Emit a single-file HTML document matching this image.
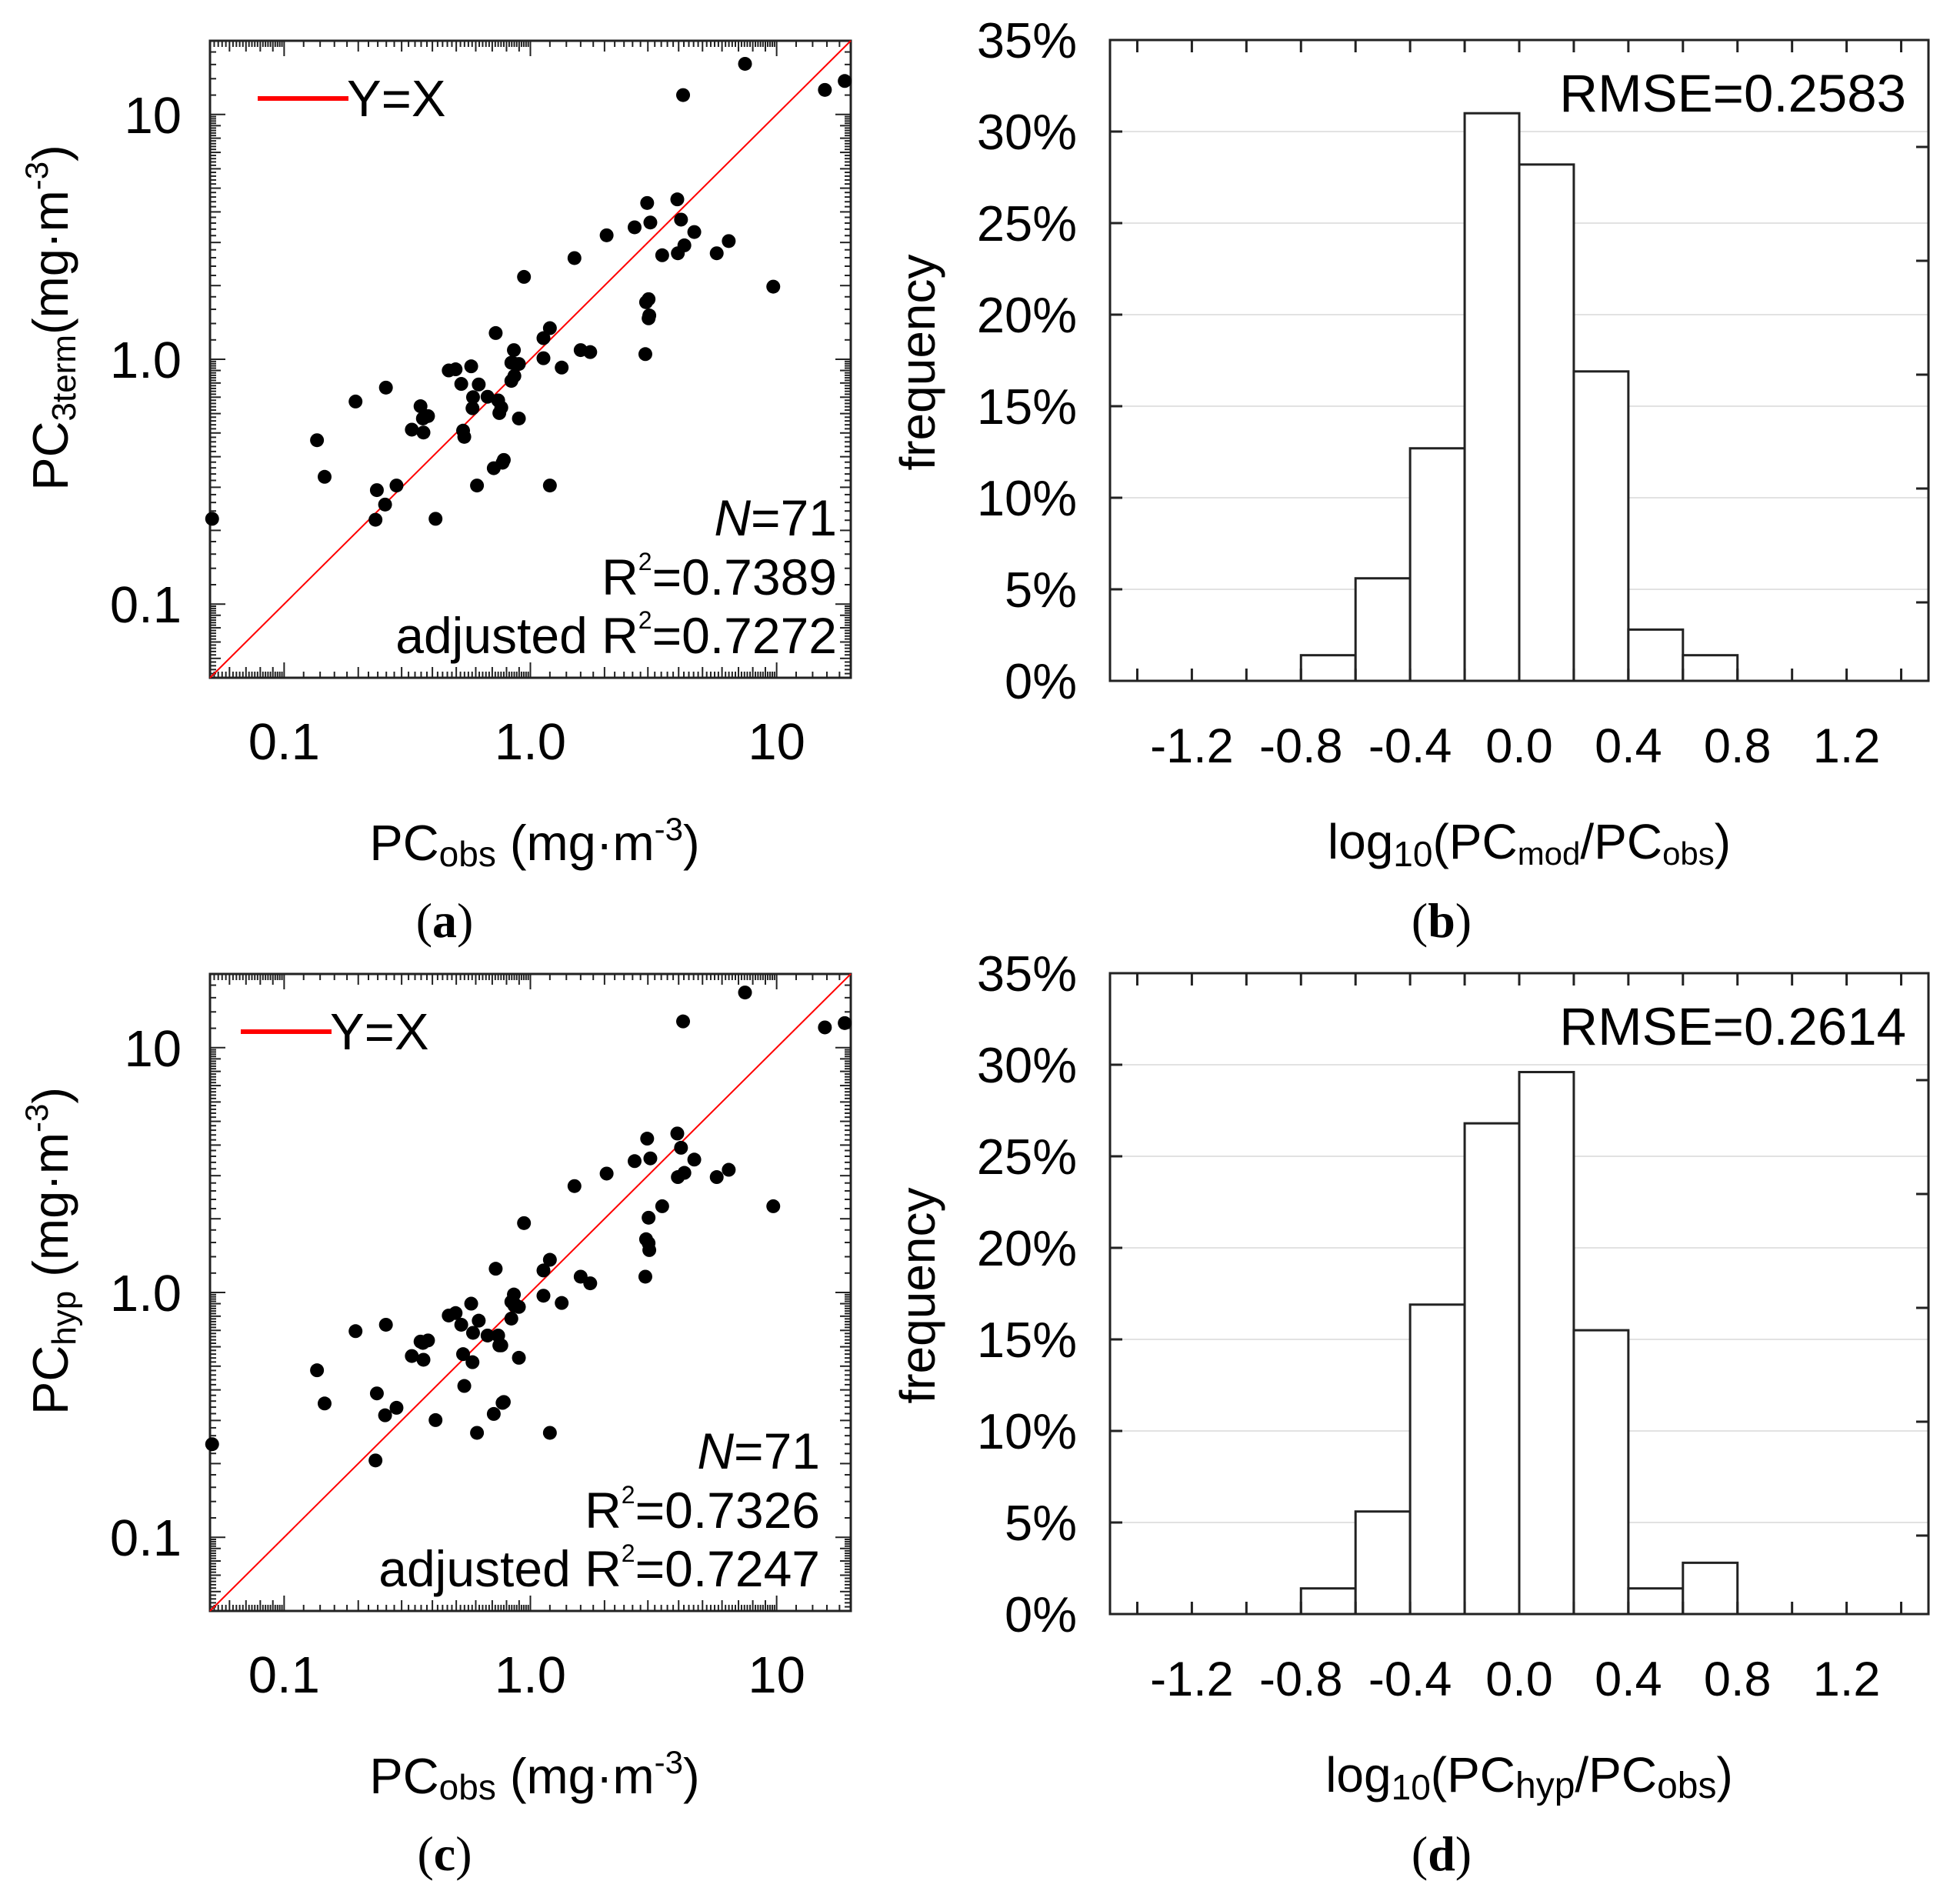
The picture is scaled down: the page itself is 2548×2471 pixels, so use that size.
<!DOCTYPE html>
<html><head><meta charset="utf-8"><style>
html,body{margin:0;padding:0;background:#fff}
svg{display:block}
text{font-family:"Liberation Sans",Arial,sans-serif;fill:#000}
.lab{font-family:"Liberation Serif",serif;font-size:64px}
</style></head><body>
<svg id="fig" xmlns="http://www.w3.org/2000/svg" width="2548" height="2471" viewBox="0 0 2548 2471">
</svg>
<script>
// ---- data ----
const obs = [0.051,0.136,0.146,0.195,0.259,0.238,0.235,0.257,0.286,0.330,0.358,0.368,0.366,0.384,0.412,0.466,0.497,0.524,0.533,0.539,0.575,0.585,0.582,0.617,0.607,0.670,0.723,0.710,0.740,0.748,0.762,0.771,0.780,0.857,0.837,0.837,0.861,0.898,0.898,0.942,1.13,1.13,1.20,1.20,1.34,1.51,1.60,1.75,2.04,2.65,2.98,3.07,2.95,3.02,3.04,3.02,2.93,3.43,3.95,4.09,3.97,4.22,4.63,4.17,5.71,6.39,7.44,9.69,15.7,18.9,0.86];
const pc3term = [0.223,0.467,0.331,0.672,0.766,0.292,0.221,0.255,0.305,0.516,0.643,0.502,0.573,0.586,0.223,0.900,0.910,0.793,0.511,0.482,0.936,0.700,0.631,0.789,0.305,0.703,1.28,0.359,0.679,0.603,0.635,0.378,0.388,1.09,0.968,0.816,0.855,0.957,0.573,2.17,1.22,1.01,1.34,0.305,0.925,2.59,1.09,1.07,3.21,3.46,4.35,3.62,1.71,1.76,1.51,1.47,1.05,2.66,4.50,3.72,2.71,2.92,3.31,12.0,2.71,3.04,16.1,1.98,12.6,13.7,0.96];
const pchyp = [0.240,0.481,0.352,0.695,0.738,0.387,0.206,0.315,0.338,0.550,0.630,0.531,0.622,0.637,0.301,0.805,0.824,0.738,0.560,0.415,0.900,0.684,0.519,0.767,0.267,0.667,1.25,0.319,0.667,0.608,0.608,0.354,0.357,0.981,0.916,0.782,0.883,0.873,0.541,1.92,1.23,0.970,1.36,0.267,0.906,2.72,1.16,1.09,3.06,3.44,4.25,3.53,1.65,2.02,1.49,1.59,1.16,2.25,4.46,3.90,2.96,3.08,3.49,12.8,2.96,3.17,16.8,2.25,12.1,12.6,0.90];
const binStarts = [-0.8,-0.6,-0.4,-0.2,0.0,0.2,0.4,0.6];
const freqB = [1.4,5.6,12.7,31.0,28.2,16.9,2.8,1.4];
const freqD = [1.4,5.6,16.9,26.8,29.6,15.5,1.4,2.8];
const histXTicks = ["-1.2","-0.8","-0.4","0.0","0.4","0.8","1.2"];
const histYTicks = ["0%","5%","10%","15%","20%","25%","30%","35%"];
const logTicks = ["0.1","1.0","10"];

const NS="http://www.w3.org/2000/svg";
const svg=document.getElementById('fig');
function el(tag,attrs,parent){const e=document.createElementNS(NS,tag);for(const k in attrs)e.setAttribute(k,attrs[k]);(parent||svg).appendChild(e);return e;}
function txt(parent,x,y,str,size,anchor,extra){const t=el('text',Object.assign({x:x,y:y,'font-size':size,'text-anchor':anchor||'start'},extra||{}),parent);t.textContent=str;return t;}
function tspan(t,str,attrs){const s=document.createElementNS(NS,'tspan');for(const k in attrs)s.setAttribute(k,attrs[k]);s.textContent=str;t.appendChild(s);return s;}

function scatter(oy, yvals, legX, statX, stats, ytitleSub, ytitleGap, label, nameSfx){
  const L=273,R=1106,T=53+oy,B=881+oy;
  const lmin=Math.log10(0.05), lmax=Math.log10(20);
  const sx=v=>L+(Math.log10(v)-lmin)/(lmax-lmin)*(R-L);
  const sy=v=>B-(Math.log10(v)-lmin)/(lmax-lmin)*(B-T);
  const g=el('g',{});  
  const tg=el('g',{stroke:'#222','stroke-width':2},g);
   
  for(let d=0.01; d<=10; d*=10){
    for(let k=10;k<100;k+=2){
      const x=d*k/10; if(x<0.05||x>20) continue;
      const len=(k===10)?20:(k%10===0?14:8);
      const px=sx(x), py=sy(x);
      el('line',{x1:px,y1:B,x2:px,y2:B-len},tg);
      el('line',{x1:px,y1:T,x2:px,y2:T+len},tg);
      el('line',{x1:L,y1:py,x2:L+len,y2:py},tg);
      el('line',{x1:R,y1:py,x2:R-len,y2:py},tg);
    }
  }
  const fr=el('rect',{x:L,y:T,width:R-L,height:B-T,fill:'none',stroke:'#222','stroke-width':3},g);
   
  const ln=el('line',{x1:sx(0.05),y1:sy(0.05),x2:sx(20),y2:sy(20),stroke:'#ff0000','stroke-width':2},g);
   
  const pg=el('g',{},g);  
  for(let i=0;i<obs.length;i++){
    const c=el('circle',{cx:sx(obs[i]),cy:sy(yvals[i]),r:9,fill:'#000'},pg);
     
  }
  logTicks.forEach(s=>{
    const v=parseFloat(s);
    const a=txt(g,sx(v),987+oy,s,67,'middle');  
    const b=txt(g,236,sy(v)+24,s,67,'end');  
  });
  const lg=el('g',{},g);  
  el('line',{x1:legX,y1:128+oy,x2:legX+118,y2:128+oy,stroke:'#ff0000','stroke-width':6},lg);
  txt(lg,legX+116,151+oy,'Y=X',67,'start');
  const st=el('g',{},g);  
  const t1=txt(st,statX,696+oy,'',66,'end'); tspan(t1,'N',{'font-style':'italic'}); tspan(t1,'=71',{});
  const t2=txt(st,statX,773+oy,'',66,'end'); tspan(t2,'R',{}); tspan(t2,'2',{'font-size':32,dy:-32}); tspan(t2,'='+stats[0],{dy:32});
  const t3=txt(st,statX,849+oy,'',66,'end'); tspan(t3,'adjusted R',{}); tspan(t3,'2',{'font-size':32,dy:-32}); tspan(t3,'='+stats[1],{dy:32});
  const xt=txt(g,695,1118+oy,'',65,'middle');  
  tspan(xt,'PC',{}); tspan(xt,'obs',{'font-size':46,dy:8}); tspan(xt,' (mg·m',{dy:-8}); tspan(xt,'-3',{'font-size':42,dy:-26}); tspan(xt,')',{dy:26});
  const yt=txt(g,0,0,'',65,'middle',{transform:'translate(88,'+(413+oy)+') rotate(-90)'});  
  tspan(yt,'PC',{}); tspan(yt,ytitleSub,{'font-size':44,dy:10}); tspan(yt,ytitleGap+'(mg·m',{dy:-10}); tspan(yt,'-3',{'font-size':42,dy:-26}); tspan(yt,')',{dy:26});
  const pl=el('text',{x:578,y:1218+oy,'text-anchor':'middle',class:'lab'},g);  
  tspan(pl,'(',{}); tspan(pl,label,{'font-weight':'bold'}); tspan(pl,')',{});
}

function hist(oy, freqs, rmse, subNum, subStyleBig, label, nameSfx){
  const L=1443,R=2507,T=52+oy,B=885+oy;
  const sx=v=>L+(v+1.5)/3*(R-L);
  const sy=p=>B-p/35*(B-T);
  const g=el('g',{});  
  for(let p=5;p<=30;p+=5){const gl=el('line',{x1:L,y1:sy(p),x2:R,y2:sy(p),stroke:'#e2e2e2','stroke-width':2},g);  }
  const bg=el('g',{},g);  
  binStarts.forEach((b,i)=>{
    const r=el('rect',{x:sx(b),y:sy(freqs[i]),width:sx(b+0.2)-sx(b),height:B-sy(freqs[i]),fill:'#fff',stroke:'#222','stroke-width':3},bg);
     
  });
  const tg=el('g',{stroke:'#222','stroke-width':3},g);  
  for(let k=-7;k<=7;k++){const x=sx(k*0.2); el('line',{x1:x,y1:B,x2:x,y2:B-16},tg); el('line',{x1:x,y1:T,x2:x,y2:T+16},tg);}
  for(let p=5;p<=30;p+=5){el('line',{x1:L,y1:sy(p),x2:L+16,y2:sy(p)},tg);}
  for(let k=0;k<5;k++){const y=T+139+148*k; el('line',{x1:R,y1:y,x2:R-16,y2:y},tg);}
  const fr=el('rect',{x:L,y:T,width:R-L,height:B-T,fill:'none',stroke:'#222','stroke-width':3},g);
   
  histXTicks.forEach(s=>{const a=txt(g,sx(parseFloat(s)),991+oy,s,63,'middle');  });
  histYTicks.forEach(s=>{const a=txt(g,1400,sy(parseFloat(s))+23,s,65,'end');  });
  const rm=txt(g,2478,145+oy,'RMSE='+rmse,69,'end');  
  const yt=txt(g,0,0,'frequency',64,'middle',{transform:'translate(1215,'+(471+oy)+') rotate(-90)'});  
  const xt=txt(g,1988,1116+oy,'',64,'middle');  
  const fs=subStyleBig?48:42;
  tspan(xt,'log',{}); tspan(xt,'10',{'font-size':46,dy:10}); tspan(xt,'(PC',{dy:-10}); tspan(xt,subNum,{'font-size':fs,dy:8}); tspan(xt,'/PC',{dy:-8}); tspan(xt,'obs',{'font-size':fs,dy:8}); tspan(xt,')',{dy:-8});
  const pl=el('text',{x:1874,y:1218+oy,'text-anchor':'middle',class:'lab'},g);  
  tspan(pl,'(',{}); tspan(pl,label,{'font-weight':'bold'}); tspan(pl,')',{});
}

scatter(0, pc3term, 335, 1088, ['0.7389','0.7272'], '3term', '', 'a', 'a');
hist(0, freqB, '0.2583', 'mod', false, 'b', 'b');
scatter(1213, pchyp, 313, 1066, ['0.7326','0.7247'], 'hyp', ' ', 'c', 'c');
hist(1213, freqD, '0.2614', 'hyp', true, 'd', 'd');
</script>
</body></html>
